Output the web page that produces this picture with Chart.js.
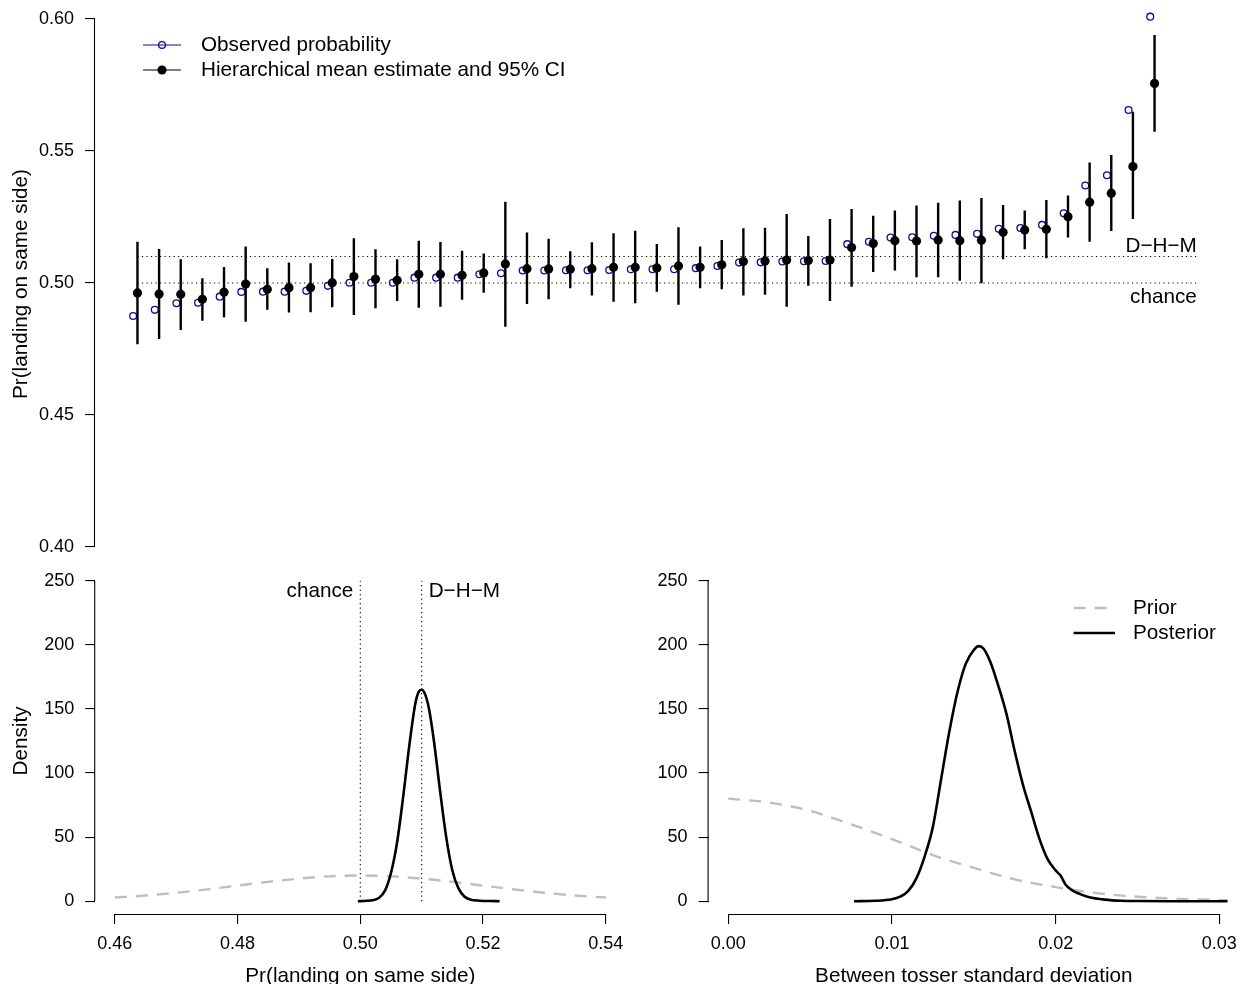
<!DOCTYPE html>
<html>
<head>
<meta charset="utf-8">
<script src="https://cdn.jsdelivr.net/npm/chart.js@4.4.1/dist/chart.umd.min.js"></script>
<style>
  html, body { margin: 0; padding: 0; background: #fff; }
  #wrap { position: relative; width: 1242px; height: 984px; overflow: hidden; background: #fff; }
  canvas { position: absolute; }
</style>
</head>
<body>
<div id="wrap">
  <canvas id="topCanvas" width="1242" height="570" style="left:0px;top:0px"></canvas>
  <canvas id="densCanvas" width="640" height="424" style="left:0px;top:560px"></canvas>
  <canvas id="sdCanvas" width="621" height="424" style="left:621px;top:560px"></canvas>
</div>
<script>
// ── Data ──────────────────────────────────────────────────────────────────────
// Top panel: 48 tossers, sorted by hierarchical estimate
const tosser = [1, 2, 3, 4, 5, 6, 7, 8, 9, 10, 11, 12, 13, 14, 15, 16, 17, 18, 19, 20, 21, 22, 23, 24,
                25, 26, 27, 28, 29, 30, 31, 32, 33, 34, 35, 36, 37, 38, 39, 40, 41, 42, 43, 44, 45, 46, 47, 48];
const observed = [0.4875, 0.4898, 0.4923, 0.4925, 0.4948, 0.4966, 0.4967, 0.4967, 0.4970, 0.4989, 0.5001, 0.5001,
                  0.5001, 0.5020, 0.5020, 0.5020, 0.5033, 0.5037, 0.5047, 0.5047, 0.5048, 0.5048, 0.5049, 0.5052,
                  0.5052, 0.5052, 0.5056, 0.5064, 0.5077, 0.5078, 0.5081, 0.5082, 0.5083, 0.5147, 0.5156, 0.5172,
                  0.5173, 0.5179, 0.5182, 0.5186, 0.5205, 0.5208, 0.5220, 0.5264, 0.5369, 0.5408, 0.5655, 0.6009];
const estimate = [0.4962, 0.4958, 0.4957, 0.4938, 0.4965, 0.4996, 0.4976, 0.4982, 0.4982, 0.5001, 0.5024, 0.5015,
                  0.5010, 0.5033, 0.5033, 0.5029, 0.5038, 0.5072, 0.5054, 0.5053, 0.5052, 0.5054, 0.5059, 0.5059,
                  0.5057, 0.5064, 0.5059, 0.5069, 0.5081, 0.5083, 0.5087, 0.5085, 0.5087, 0.5134, 0.5149, 0.5160,
                  0.5159, 0.5163, 0.5160, 0.5162, 0.5192, 0.5201, 0.5203, 0.5251, 0.5306, 0.5340, 0.5441, 0.5756];
const ciLow    = [0.4768, 0.4788, 0.4822, 0.4857, 0.4870, 0.4853, 0.4898, 0.4888, 0.4889, 0.4908, 0.4879, 0.4904,
                  0.4932, 0.4906, 0.4910, 0.4936, 0.4963, 0.4834, 0.4920, 0.4938, 0.4980, 0.4952, 0.4929, 0.4923,
                  0.4967, 0.4917, 0.4980, 0.4976, 0.4952, 0.4955, 0.4910, 0.4989, 0.4932, 0.4986, 0.5041, 0.5047,
                  0.5022, 0.5022, 0.5008, 0.4999, 0.5090, 0.5128, 0.5094, 0.5172, 0.5156, 0.5197, 0.5242, 0.5573];
const ciHigh   = [0.5156, 0.5129, 0.5090, 0.5018, 0.5060, 0.5138, 0.5056, 0.5077, 0.5075, 0.5091, 0.5169, 0.5128,
                  0.5090, 0.5160, 0.5155, 0.5122, 0.5112, 0.5308, 0.5191, 0.5167, 0.5120, 0.5154, 0.5188, 0.5198,
                  0.5148, 0.5211, 0.5138, 0.5163, 0.5207, 0.5209, 0.5261, 0.5178, 0.5242, 0.5280, 0.5255, 0.5274,
                  0.5293, 0.5304, 0.5312, 0.5322, 0.5295, 0.5274, 0.5314, 0.5331, 0.5456, 0.5485, 0.5649, 0.5939];
const refLines  = [0.50, 0.51];               // chance, D-H-M
const refLabels = ['chance', 'D\u2212H\u2212M'];
const topTicks  = [0.40, 0.45, 0.50, 0.55, 0.60];
const topLegend = ['Observed probability', 'Hierarchical mean estimate and 95% CI'];

// Bottom left: population mean
const meanPostX = [0.4996, 0.5010, 0.5020, 0.5030, 0.5040, 0.5050, 0.5060, 0.5070, 0.5080, 0.5090, 0.5096, 0.5100,
                   0.5106, 0.5112, 0.5120, 0.5130, 0.5140, 0.5150, 0.5160, 0.5170, 0.5180, 0.5195, 0.5210, 0.5227];
const meanPostY = [0, 0.3, 0.8, 2.5, 8, 22, 46, 82, 122, 155, 164, 165,
                   161, 150, 125, 86, 50, 24, 10, 3.5, 1.2, 0.4, 0.1, 0];
const meanPriorX = [0.460, 0.465, 0.470, 0.475, 0.480, 0.485, 0.490, 0.495, 0.500,
                    0.505, 0.510, 0.515, 0.520, 0.525, 0.530, 0.535, 0.540];
const meanPriorY = [2.9, 4.4, 6.6, 9.2, 12.2, 15.1, 17.6, 19.4, 20.0, 19.4, 17.6, 15.1, 12.2, 9.2, 6.6, 4.4, 2.9];
const meanTicks  = [0.46, 0.48, 0.50, 0.52, 0.54];

// Bottom right: between-tosser sd
const sdPostX = [0.00768, 0.0090, 0.0100, 0.0105, 0.0110, 0.0115, 0.0120, 0.0125, 0.0130, 0.0135, 0.0140, 0.0145,
                 0.0150, 0.0153, 0.0156, 0.0160, 0.0165, 0.0170, 0.0175, 0.0180, 0.0185, 0.0190, 0.0195, 0.0200,
                 0.0203, 0.0206, 0.0210, 0.0215, 0.0220, 0.0230, 0.0240, 0.0250, 0.0270, 0.0305];
const sdPostY = [0, 0.3, 1.5, 3.5, 8, 18, 35, 58, 95, 132, 163, 185,
                 196, 199, 197, 187, 168, 146, 117, 91, 70, 49, 33, 24,
                 20, 13, 8.5, 5.5, 3.3, 1.2, 0.3, 0.1, 0, 0];
const sdPriorX = [0, 0.0025, 0.005, 0.0075, 0.010, 0.0125, 0.015, 0.0175, 0.020, 0.0225, 0.025, 0.0275, 0.030, 0.0305];
const sdPriorY = [80, 77, 70.5, 60, 48.5, 36, 26, 17, 11, 6.3, 3.5, 1.8, 0.9, 0.8];
const sdTicks  = [0.00, 0.01, 0.02, 0.03];
const densTicks = [0, 50, 100, 150, 200, 250];
const sdLegend  = ['Prior', 'Posterior'];

// ── Shared styling ────────────────────────────────────────────────────────────
const FONT = '"Liberation Sans", Arial, Helvetica, sans-serif';
const TICK_PX = 18;     // axis numbers
const TEXT_PX = 20.7;   // titles, legends, labels
const NAVY = '#0c0c9c';
const GREY = '#bebebe';
Chart.defaults.font.family = FONT;
Chart.defaults.font.size = TICK_PX;
Chart.defaults.color = '#000';

const pts = (xs, ys) => xs.map((x, i) => ({ x, y: ys[i] }));

// R-style axis: fixed margin, outward ticks, line only spans first..last tick
function rAxis(position, min, max, ticks, fmt, size, title, titlePad) {
  return {
    type: 'linear', position, min, max,
    afterBuildTicks: s => { s.ticks = ticks.map(v => ({ value: v })); },
    afterFit: s => {
      if (position === 'left') s.width = size; else s.height = size;
      s.paddingLeft = s.paddingRight = s.paddingTop = s.paddingBottom = 0;
    },
    grid: { display: true, drawOnChartArea: false, drawTicks: true, tickLength: 10, color: '#000', lineWidth: 1.1 },
    border: { display: false },
    ticks: { autoSkip: false, maxRotation: 0, minRotation: 0, padding: position === 'left' ? 11 : 9,
             color: '#000', font: { size: TICK_PX }, callback: fmt },
    title: title
      ? { display: true, text: title, color: '#000',
          font: { size: TEXT_PX, lineHeight: position === 'left' ? 1.2 : 0.78 }, padding: titlePad }
      : { display: false },
  };
}

const axisLinePlugin = {
  id: 'rAxisLine',
  afterDraw(chart) {
    const { ctx, chartArea } = chart;
    ctx.save();
    ctx.strokeStyle = '#000';
    ctx.lineWidth = 1.1;
    Object.values(chart.scales).forEach(s => {
      if (!s.options.display || !s.ticks.length) return;
      const a = s.getPixelForValue(s.ticks[0].value);
      const b = s.getPixelForValue(s.ticks[s.ticks.length - 1].value);
      ctx.beginPath();
      if (s.isHorizontal()) { ctx.moveTo(a, chartArea.bottom + 0.5); ctx.lineTo(b, chartArea.bottom + 0.5); }
      else { ctx.moveTo(chartArea.left - 0.5, a); ctx.lineTo(chartArea.left - 0.5, b); }
      ctx.stroke();
    });
    ctx.restore();
  },
};

const hiddenX = (min, max) => ({ type: 'linear', display: false, min, max });

// ── Top panel ────────────────────────────────────────────────────────────────
const ciPts = [];
tosser.forEach((t, i) => {
  ciPts.push({ x: t + 0.1, y: ciLow[i] }, { x: t + 0.1, y: ciHigh[i] }, { x: t + 0.1, y: null });
});

const topLabelPlugin = {
  id: 'topLabels',
  afterDatasetsDraw(chart) {
    const { ctx, scales: { x, y } } = chart;
    ctx.save();
    ctx.font = TEXT_PX + 'px ' + FONT;
    ctx.fillStyle = '#000';
    ctx.textAlign = 'right';
    ctx.textBaseline = 'alphabetic';
    const xr = x.getPixelForValue(50.05);
    ctx.fillText(refLabels[1], xr, y.getPixelForValue(refLines[1]) - 5);
    ctx.fillText(refLabels[0], xr, y.getPixelForValue(refLines[0]) + 20);

    // legend: line + point sample, no box
    const rows = [
      { y: 45, color: NAVY, filled: false },
      { y: 70, color: '#000', filled: true },
    ];
    rows.forEach((r, i) => {
      ctx.strokeStyle = r.color;
      ctx.lineWidth = 1.2;
      ctx.beginPath(); ctx.moveTo(143, r.y); ctx.lineTo(181, r.y); ctx.stroke();
      ctx.beginPath(); ctx.arc(162, r.y, r.filled ? 4.6 : 3.4, 0, Math.PI * 2);
      if (r.filled) { ctx.fillStyle = '#000'; ctx.fill(); }
      else { ctx.lineWidth = 1.3; ctx.stroke(); }
      ctx.fillStyle = '#000';
      ctx.textAlign = 'left';
      ctx.textBaseline = 'middle';
      ctx.fillText(topLegend[i], 201, r.y);
    });
    ctx.restore();
  },
};

new Chart(document.getElementById('topCanvas'), {
  type: 'scatter',
  data: {
    datasets: [
      { label: 'estimate', data: pts(tosser.map(t => t + 0.1), estimate), pointRadius: 4.6, pointHoverRadius: 4.6,
        pointBackgroundColor: '#000', pointBorderWidth: 0, clip: false },
      { label: 'ci', data: ciPts, showLine: true, spanGaps: false, borderColor: '#000', borderWidth: 2.4,
        pointRadius: 0, clip: false },
      { label: 'observed', data: pts(tosser.map(t => t - 0.1), observed), pointRadius: 3.4, pointHoverRadius: 3.4,
        pointBackgroundColor: 'rgba(0,0,0,0)', pointBorderColor: NAVY, pointBorderWidth: 1.3, clip: false },
      { label: 'dhm', data: [{ x: 1.1, y: refLines[1] }, { x: 50.05, y: refLines[1] }], showLine: true,
        borderColor: '#000', borderWidth: 1.1, borderDash: [1.2, 3.3], pointRadius: 0, clip: false },
      { label: 'chance', data: [{ x: 1.1, y: refLines[0] }, { x: 50.05, y: refLines[0] }], showLine: true,
        borderColor: '#000', borderWidth: 1.1, borderDash: [1.2, 3.3], pointRadius: 0, clip: false },
    ],
  },
  plugins: [axisLinePlugin, topLabelPlugin],
  options: {
    responsive: false, animation: false, devicePixelRatio: 1,
    layout: { autoPadding: false, padding: { left: 0, top: 0, right: 42, bottom: 2 } },
    plugins: { legend: { display: false }, tooltip: { enabled: false } },
    scales: {
      x: hiddenX(-0.862, 50.2),
      y: rAxis('left', 0.392, 0.6072, topTicks, v => v.toFixed(2), 95, 'Pr(landing on same side)', { top: 8.6 }),
    },
  },
});

// ── Bottom left: mean ─────────────────────────────────────────────────────────
const densLabelPlugin = {
  id: 'densLabels',
  afterDatasetsDraw(chart) {
    const { ctx, scales: { x, y } } = chart;
    ctx.save();
    ctx.font = TEXT_PX + 'px ' + FONT;
    ctx.fillStyle = '#000';
    ctx.textBaseline = 'alphabetic';
    const base = y.getPixelForValue(250) + 16;
    ctx.textAlign = 'right';
    ctx.fillText(refLabels[0], x.getPixelForValue(refLines[0]) - 7, base);
    ctx.textAlign = 'left';
    ctx.fillText(refLabels[1], x.getPixelForValue(refLines[1]) + 7, base);
    ctx.restore();
  },
};

new Chart(document.getElementById('densCanvas'), {
  type: 'scatter',
  data: {
    datasets: [
      { label: 'posterior', data: pts(meanPostX, meanPostY), showLine: true, borderColor: '#000', borderWidth: 2.6,
        pointRadius: 0, cubicInterpolationMode: 'monotone' },
      { label: 'prior', data: pts(meanPriorX, meanPriorY), showLine: true, borderColor: GREY, borderWidth: 2.4,
        borderDash: [12, 9], pointRadius: 0, cubicInterpolationMode: 'monotone' },
      { label: 'chance', data: [{ x: refLines[0], y: 0 }, { x: refLines[0], y: 250 }], showLine: true,
        borderColor: '#000', borderWidth: 1.1, borderDash: [1.2, 3.3], pointRadius: 0 },
      { label: 'dhm', data: [{ x: refLines[1], y: 0 }, { x: refLines[1], y: 250 }], showLine: true,
        borderColor: '#000', borderWidth: 1.1, borderDash: [1.2, 3.3], pointRadius: 0 },
    ],
  },
  plugins: [axisLinePlugin, densLabelPlugin],
  options: {
    responsive: false, animation: false, devicePixelRatio: 1,
    layout: { autoPadding: false, padding: { left: 0, top: 8, right: 14.6, bottom: 0 } },
    plugins: { legend: { display: false }, tooltip: { enabled: false } },
    scales: {
      x: rAxis('bottom', 0.4568, 0.5432, meanTicks, v => v.toFixed(2), 70, 'Pr(landing on same side)', { top: 0, bottom: 0 }),
      y: rAxis('left', -10, 260, densTicks, v => String(v), 95.2, 'Density', { top: 8.6 }),
    },
  },
});

// ── Bottom right: between-tosser sd ───────────────────────────────────────────
const sdLegendPlugin = {
  id: 'sdLegend',
  afterDatasetsDraw(chart) {
    const { ctx } = chart;
    ctx.save();
    ctx.font = TEXT_PX + 'px ' + FONT;
    ctx.textAlign = 'left';
    ctx.textBaseline = 'middle';
    const rows = [
      { y: 48, color: GREY, dash: [12, 9] },
      { y: 73, color: '#000', dash: [] },
    ];
    rows.forEach((r, i) => {
      ctx.strokeStyle = r.color;
      ctx.lineWidth = i === 0 ? 2.4 : 2.6;
      ctx.setLineDash(r.dash);
      ctx.beginPath(); ctx.moveTo(452.6, r.y); ctx.lineTo(494, r.y); ctx.stroke();
      ctx.setLineDash([]);
      ctx.fillStyle = '#000';
      ctx.fillText(sdLegend[i], 512, r.y);
    });
    ctx.restore();
  },
};

new Chart(document.getElementById('sdCanvas'), {
  type: 'scatter',
  data: {
    datasets: [
      { label: 'posterior', data: pts(sdPostX, sdPostY), showLine: true, borderColor: '#000', borderWidth: 2.6,
        pointRadius: 0, cubicInterpolationMode: 'monotone' },
      { label: 'prior', data: pts(sdPriorX, sdPriorY), showLine: true, borderColor: GREY, borderWidth: 2.4,
        borderDash: [12, 9], pointRadius: 0, cubicInterpolationMode: 'monotone' },
    ],
  },
  plugins: [axisLinePlugin, sdLegendPlugin],
  options: {
    responsive: false, animation: false, devicePixelRatio: 1,
    layout: { autoPadding: false, padding: { left: 0, top: 8, right: 3, bottom: 0 } },
    plugins: { legend: { display: false }, tooltip: { enabled: false } },
    scales: {
      x: rAxis('bottom', -0.0012, 0.0312, sdTicks, v => v.toFixed(2), 70, 'Between tosser standard deviation', { top: 0, bottom: 0 }),
      y: rAxis('left', -10, 260, densTicks, v => String(v), 87.6, '', null),
    },
  },
});
</script>
</body>
</html>
